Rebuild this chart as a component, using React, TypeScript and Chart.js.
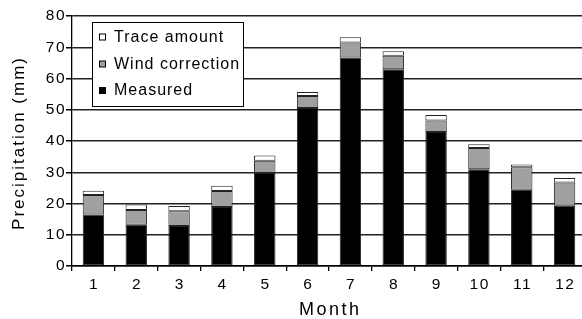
import React, { useEffect, useRef } from "react";
import { Chart, registerables } from "chart.js";

Chart.register(...registerables);

const months = ["1", "2", "3", "4", "5", "6", "7", "8", "9", "10", "11", "12"];
const measured = [16.5, 13.2, 12.8, 18.9, 29.8, 50.6, 66.7, 63.0, 42.9, 31.0, 24.4, 19.3];
const windCorrection = [6.2, 4.7, 4.7, 5.1, 3.9, 3.8, 4.8, 4.3, 3.7, 6.8, 7.2, 7.4];
const traceAmount = [1.4, 1.8, 1.7, 1.7, 1.7, 1.3, 1.7, 1.4, 1.7, 1.2, 0.9, 1.5];
const legendLabels = ["Trace amount", "Wind correction", "Measured"];
const legendColors = ["#ffffff", "#a0a0a0", "#000000"];

const FONT = "'Liberation Sans', Arial, Helvetica, sans-serif";
const CANVAS_W = 590;
const CANVAS_H = 319;

function wrapDraw(scale: any, name: string, spacing: number, dx: number, dy: number) {
  const key = "__wrapped_" + name;
  if (scale[key]) return;
  const orig = scale[name];
  scale[name] = function (...args: any[]) {
    const ctx = this.ctx;
    ctx.save();
    ctx.letterSpacing = spacing + "px";
    ctx.translate(dx, dy);
    orig.apply(this, args);
    ctx.restore();
  };
  scale[key] = true;
}

const trackingPlugin = {
  id: "tracking",
  afterLayout(chart: any) {
    const x = chart.scales.x;
    const y = chart.scales.y;
    wrapDraw(x, "drawLabels", 1.5, 0.75, 0);
    wrapDraw(y, "drawLabels", 1.5, 0, 0);
    wrapDraw(x, "drawTitle", 2.5, 1.25, 0);
    wrapDraw(y, "drawTitle", 2, 0, 2);
  },
};

const boxLegendPlugin = {
  id: "boxLegend",
  afterDraw(chart: any) {
    const ctx = chart.ctx;
    const x0 = 92.5;
    const y0 = 22.5;
    const w = 151;
    const h = 84;
    ctx.save();
    ctx.fillStyle = "#ffffff";
    ctx.fillRect(x0, y0, w, h);
    ctx.strokeStyle = "#000";
    ctx.lineWidth = 1;
    ctx.strokeRect(x0, y0, w, h);
    ctx.font = `16px ${FONT}`;
    ctx.letterSpacing = "1px";
    ctx.textBaseline = "alphabetic";
    ctx.textAlign = "left";
    const baselines = [41.5, 68.5, 95];
    legendLabels.forEach((lab, i) => {
      const b = baselines[i];
      ctx.fillStyle = legendColors[i];
      ctx.fillRect(99.5, b - 7.5, 6, 6);
      ctx.strokeStyle = "#000";
      ctx.strokeRect(99.5, b - 7.5, 6, 6);
      ctx.fillStyle = "#000";
      ctx.fillText(lab, 114, b);
    });
    ctx.restore();
  },
};

export default function App() {
  const ref = useRef<HTMLCanvasElement | null>(null);
  useEffect(() => {
    if (!ref.current) return;
    const ds = (label: string, data: number[], color: string) => ({
      label,
      data,
      backgroundColor: color,
      borderColor: "#222",
      borderWidth: 1,
      borderSkipped: false,
      barPercentage: 0.5,
      categoryPercentage: 1,
    });
    const chart = new Chart(ref.current, {
      type: "bar",
      data: {
        labels: months,
        datasets: [
          ds("Measured", measured, "#000000"),
          ds("Wind correction", windCorrection, "#a0a0a0"),
          ds("Trace amount", traceAmount, "#ffffff"),
        ],
      },
      options: {
        responsive: false,
        animation: false,
        devicePixelRatio: 1,
        layout: { padding: { top: 16, right: CANVAS_W - 586, left: 0, bottom: 0 } },
        plugins: { legend: { display: false }, tooltip: { enabled: false } },
        scales: {
          x: {
            stacked: true,
            afterFit(scale: any) {
              scale.height = 53;
            },
            grid: {
              offset: true,
              drawOnChartArea: false,
              drawTicks: true,
              tickLength: 5,
              tickColor: "#000",
              lineWidth: 1.3,
            },
            border: { display: true, color: "#000", width: 1.5 },
            ticks: {
              color: "#000",
              font: { family: FONT, size: 15.5 },
              padding: 4,
              maxRotation: 0,
            },
            title: {
              display: true,
              text: "Month",
              color: "#000",
              font: { family: FONT, size: 18, lineHeight: 1 },
              padding: { top: 0, bottom: 0 },
            },
          },
          y: {
            stacked: true,
            min: 0,
            max: 80,
            afterFit(scale: any) {
              scale.width = 72;
            },
            grid: {
              color: "#222",
              lineWidth: 1.5,
              drawTicks: true,
              tickLength: 6,
              tickColor: "#000",
            },
            border: { display: true, color: "#000", width: 1.3 },
            ticks: {
              stepSize: 10,
              color: "#000",
              font: { family: FONT, size: 15.5 },
              padding: 0,
            },
            title: {
              display: true,
              text: "Precipitation (mm)",
              color: "#000",
              font: { family: FONT, size: 17, lineHeight: 1 },
              padding: { top: 11, bottom: 0 },
            },
          },
        },
      },
      plugins: [trackingPlugin, boxLegendPlugin],
    });
    return () => chart.destroy();
  }, []);
  return (
    <div
      style={{
        position: "fixed",
        left: 0,
        top: 0,
        width: 582,
        height: 319,
        overflow: "hidden",
        background: "#fff",
      }}
    >
      <canvas
        ref={ref}
        width={CANVAS_W}
        height={CANVAS_H}
        style={{ display: "block", width: `${CANVAS_W}px`, height: `${CANVAS_H}px` }}
      />
    </div>
  );
}
